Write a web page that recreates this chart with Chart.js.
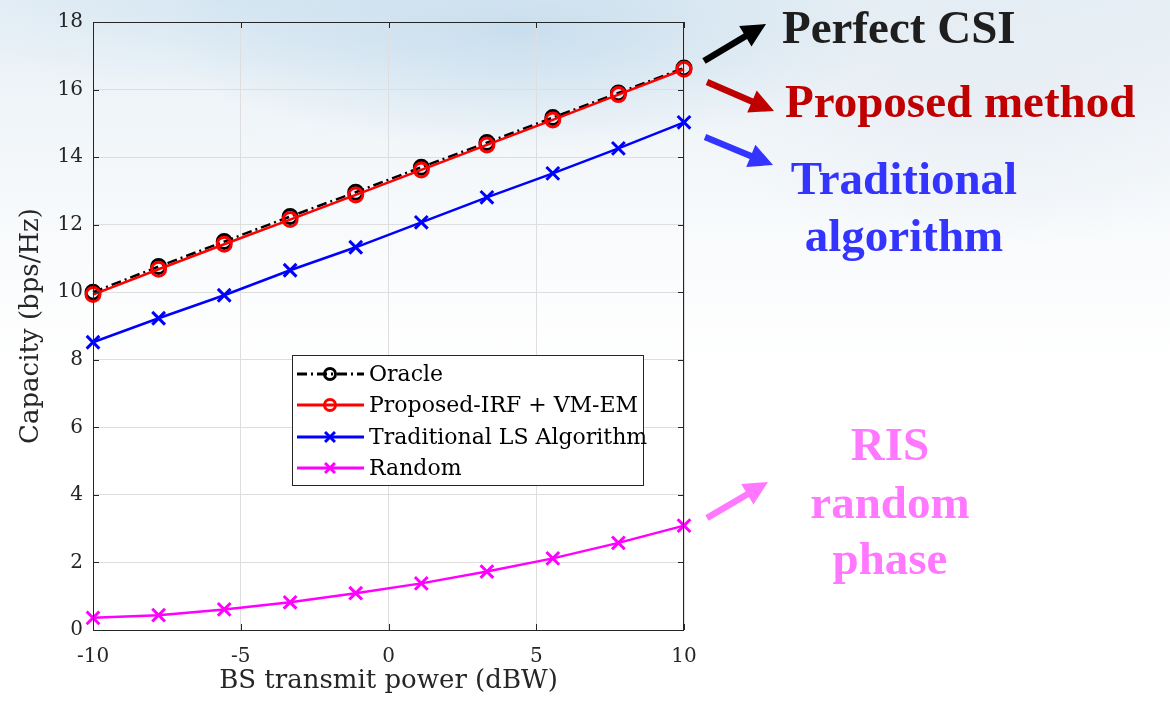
<!DOCTYPE html>
<html>
<head>
<meta charset="utf-8">
<script src="https://cdn.jsdelivr.net/npm/chart.js@4.4.1/dist/chart.umd.min.js"></script>
<style>
  html, body { margin: 0; padding: 0; }
  body {
    width: 1170px; height: 703px; overflow: hidden; position: relative;
    background:
      radial-gradient(ellipse 360px 120px at 520px 30px, rgba(190,216,235,0.75), rgba(190,216,235,0) 100%),
      radial-gradient(ellipse 300px 90px at 220px 0px, rgba(205,226,241,0.6), rgba(205,226,241,0) 100%),
      radial-gradient(ellipse 300px 160px at 980px 90px, rgba(226,233,241,0.6), rgba(226,233,241,0) 100%),
      linear-gradient(#e6eff5 0%, #f3f7fa 22%, #fbfcfd 40%, #ffffff 52%);
  }
  #wrap { position: absolute; left: 0; top: 0; width: 1170px; height: 703px; }
  #arrows { position: absolute; left: 0; top: 0; }
  .note {
    position: absolute; font-family: "Liberation Serif", "Times New Roman", serif;
    font-weight: bold; font-size: 47px; line-height: 1; white-space: nowrap;
  }
  .mid { transform: translateX(-50%); }
</style>
</head>
<body>
<div id="wrap"><canvas id="capChart"></canvas></div>
<svg id="arrows" width="1170" height="703"></svg>

<div class="note" style="left:782px;top:4px;color:#1e1e1e">Perfect CSI</div>
<div class="note" style="left:785px;top:78px;color:#c00000">Proposed method</div>
<div class="note mid" style="left:904px;top:155px;color:#3434ff">Traditional</div>
<div class="note mid" style="left:904px;top:212px;color:#3434ff">algorithm</div>
<div class="note mid" style="left:890px;top:421px;color:#ff78ff">RIS</div>
<div class="note mid" style="left:890px;top:479px;color:#ff78ff">random</div>
<div class="note mid" style="left:890px;top:535px;color:#ff78ff">phase</div>

<script>
// BS transmit power (dBW), 10 simulated points
const powerDbw = [-10, -7.78, -5.56, -3.33, -1.11, 1.11, 3.33, 5.56, 7.78, 10];

// capacity (bps/Hz)
const oracleCap   = [10.0, 10.76, 11.5, 12.24, 12.96, 13.7, 14.43, 15.17, 15.9, 16.64];
const proposedCap = [9.93, 10.68, 11.42, 12.15, 12.88, 13.62, 14.36, 15.1, 15.85, 16.6];
const lsCap       = [8.52, 9.23, 9.91, 10.65, 11.33, 12.07, 12.81, 13.52, 14.26, 15.03];
const randomCap   = [0.36, 0.44, 0.61, 0.82, 1.09, 1.38, 1.73, 2.12, 2.58, 3.09];

const seriesNames = ["Oracle", "Proposed-IRF + VM-EM", "Traditional LS Algorithm", "Random"];

const xTicks = [-10, -5, 0, 5, 10];
const yTicks = [0, 2, 4, 6, 8, 10, 12, 14, 16, 18];

const tickFont = { family: "DejaVu Serif", size: 20 };
const titleFont = { family: "DejaVu Serif", size: 26 };

function pts(ys) {
  return powerDbw.map((x, i) => ({ x, y: ys[i] }));
}

// arrows next to the plot
const arrowList = [
  { from: [704, 61], to: [766, 24], color: "#000000" },
  { from: [707, 82], to: [774, 111], color: "#c00000" },
  { from: [705, 137], to: [773, 165], color: "#3434ff" },
  { from: [707, 518], to: [768, 482], color: "#ff78ff" },
];

function drawArrows() {
  const svg = document.getElementById("arrows");
  const w = 6.5, L = 24, H = 24;
  svg.innerHTML = arrowList.map((a) => {
    const [x0, y0] = a.from, [x1, y1] = a.to;
    const len = Math.hypot(x1 - x0, y1 - y0);
    const ux = (x1 - x0) / len, uy = (y1 - y0) / len;
    const nx = -uy, ny = ux;
    const bx = x1 - ux * L, by = y1 - uy * L;
    const p = [
      [x0 + nx * w / 2, y0 + ny * w / 2],
      [bx + nx * w / 2, by + ny * w / 2],
      [bx + nx * H / 2, by + ny * H / 2],
      [x1, y1],
      [bx - nx * H / 2, by - ny * H / 2],
      [bx - nx * w / 2, by - ny * w / 2],
      [x0 - nx * w / 2, y0 - ny * w / 2],
    ];
    return `<polygon points="${p.map((q) => q[0].toFixed(1) + "," + q[1].toFixed(1)).join(" ")}" fill="${a.color}"/>`;
  }).join("");
}

function marker(ctx, style, x, y, r, color, lw) {
  ctx.save();
  ctx.strokeStyle = color;
  ctx.lineWidth = lw;
  ctx.setLineDash([]);
  ctx.beginPath();
  if (style === "circle") {
    ctx.arc(x, y, r, 0, Math.PI * 2);
  } else {
    const d = r * Math.SQRT1_2;
    ctx.moveTo(x - d, y - d); ctx.lineTo(x + d, y + d);
    ctx.moveTo(x + d, y - d); ctx.lineTo(x - d, y + d);
  }
  ctx.stroke();
  ctx.restore();
}

// box, inward ticks and the legend inside the axes
const framePlugin = {
  id: "frame",
  afterDraw(chart) {
    const { ctx, chartArea: a, scales } = chart;
    ctx.save();
    ctx.strokeStyle = "#262626";
    ctx.lineWidth = 1;
    ctx.strokeRect(a.left + 0.5, a.top + 0.5, a.right - a.left - 1, a.bottom - a.top);
    ctx.beginPath();
    scales.x.ticks.forEach((t) => {
      const px = Math.round(scales.x.getPixelForValue(t.value)) + 0.5;
      ctx.moveTo(px, a.bottom); ctx.lineTo(px, a.bottom - 6);
      ctx.moveTo(px, a.top); ctx.lineTo(px, a.top + 6);
    });
    scales.y.ticks.forEach((t) => {
      const py = Math.round(scales.y.getPixelForValue(t.value)) + 0.5;
      ctx.moveTo(a.left, py); ctx.lineTo(a.left + 6, py);
      ctx.moveTo(a.right, py); ctx.lineTo(a.right - 6, py);
    });
    ctx.stroke();

    // legend
    const bx = 292.5, by = 355.5, bw = 351, bh = 130;
    ctx.fillStyle = "#ffffff";
    ctx.fillRect(bx, by, bw, bh);
    ctx.strokeStyle = "#262626";
    ctx.strokeRect(bx, by, bw, bh);
    const rows = [374, 405, 437, 468];
    ctx.font = "22px 'DejaVu Serif'";
    ctx.textBaseline = "middle";
    chart.data.datasets.forEach((ds, i) => {
      const y = rows[i];
      ctx.save();
      ctx.strokeStyle = ds.borderColor;
      ctx.lineWidth = 3;
      ctx.setLineDash(ds.borderDash || []);
      ctx.beginPath();
      ctx.moveTo(297, y); ctx.lineTo(364, y);
      ctx.stroke();
      ctx.restore();
      marker(ctx, ds.pointStyle, 330, y, ds.pointStyle === "circle" ? 5.5 : 7, ds.borderColor, 3);
      ctx.fillStyle = "#000000";
      ctx.fillText(ds.label, 369, y + 1);
    });
    ctx.restore();
  },
};

const capChart = new Chart(document.getElementById("capChart"), {
  type: "line",
  data: {
    datasets: [
      {
        label: seriesNames[0], data: pts(oracleCap), order: 2,
        borderColor: "#000000", borderWidth: 2.5, borderDash: [10, 4, 2, 4],
        pointStyle: "circle", pointRadius: 7, pointBorderWidth: 3,
        pointBackgroundColor: "rgba(0,0,0,0)",
      },
      {
        label: seriesNames[1], data: pts(proposedCap), order: 1,
        borderColor: "#ff0000", borderWidth: 2.5,
        pointStyle: "circle", pointRadius: 7, pointBorderWidth: 3,
        pointBackgroundColor: "rgba(0,0,0,0)",
      },
      {
        label: seriesNames[2], data: pts(lsCap), order: 3,
        borderColor: "#0000ff", borderWidth: 2.5,
        pointStyle: "crossRot", pointRadius: 9, pointBorderWidth: 3,
      },
      {
        label: seriesNames[3], data: pts(randomCap), order: 4,
        borderColor: "#ff00ff", borderWidth: 2.5,
        pointStyle: "crossRot", pointRadius: 9, pointBorderWidth: 3,
      },
    ],
  },
  options: {
    responsive: true,
    maintainAspectRatio: false,
    animation: false,
    clip: false,
    layout: { padding: { left: 0, top: 22, right: 486, bottom: 0 } },
    plugins: { legend: { display: false }, tooltip: { enabled: false } },
    elements: { line: { tension: 0, fill: false } },
    scales: {
      x: {
        type: "linear", min: -10, max: 10,
        afterFit: (s) => { s.height = 73; },
        afterBuildTicks: (s) => { s.ticks = xTicks.map((v) => ({ value: v })); },
        ticks: { font: tickFont, color: "#262626", padding: 15 },
        grid: { color: "#dedede", lineWidth: 1, drawTicks: false },
        border: { display: false },
        title: {
          display: true, text: "BS transmit power (dBW)", font: titleFont,
          color: "#262626", padding: { top: 0, bottom: 6 },
        },
      },
      y: {
        type: "linear", min: 0, max: 18,
        afterFit: (s) => { s.width = 93; },
        afterBuildTicks: (s) => { s.ticks = yTicks.map((v) => ({ value: v })); },
        ticks: { font: tickFont, color: "#262626", padding: 10 },
        grid: { color: "#dedede", lineWidth: 1, drawTicks: false },
        border: { display: false },
        title: {
          display: true, text: "Capacity (bps/Hz)", font: titleFont,
          color: "#262626", padding: { top: 16, bottom: 0 },
        },
      },
    },
  },
  plugins: [framePlugin],
});

drawArrows();
</script>
</body>
</html>
